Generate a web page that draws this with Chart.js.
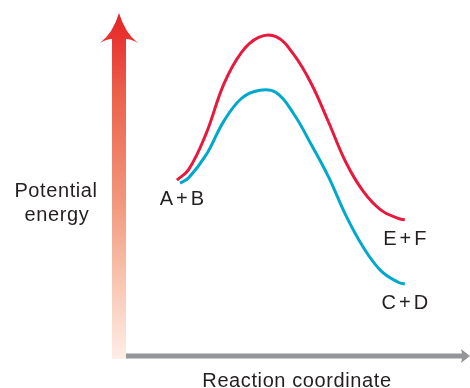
<!DOCTYPE html>
<html>
<head>
<meta charset="utf-8">
<script src="https://cdn.jsdelivr.net/npm/chart.js@4"></script>
<style>
  html, body { margin: 0; padding: 0; background: #fff; }
  #wrap { width: 470px; height: 388px; }
</style>
</head>
<body>
<div id="wrap"><canvas id="energyChart" width="470" height="388"></canvas></div>
<script>
// reaction coordinate (0..100) / potential energy (0..100)
const coordUncat = [16.6, 20, 25, 30, 35, 40, 45, 50, 55, 60, 65, 70, 75, 80, 81.9];
const energyUncat = [51.3, 54.4, 64.9, 79.2, 88.4, 92.9, 93.1, 88.0, 79.6, 68.3, 56.5, 48.0, 42.6, 40.1, 39.7];
const coordCat = [17.5, 20, 25, 30, 35, 40, 45, 50, 55, 60, 65, 70, 75, 80, 81.9];
const energyCat = [50.4, 52.0, 58.7, 68.4, 75.0, 77.4, 76.8, 70.7, 61.8, 52.3, 41.0, 31.7, 24.9, 21.5, 21.0];

const startLabel = 'A+B';
const upperLabel = 'E+F';
const lowerLabel = 'C+D';
const yTitle = ['Potential', 'energy'];
const xTitle = 'Reaction coordinate';

const RED = '#e8193d';
const CYAN = '#00a8cc';
const GREY = '#939598';
const INK = '#231f20';
const FONT = '20px "Liberation Sans", Arial, sans-serif';

const toPts = (xs, ys) => xs.map((x, i) => ({ x, y: ys[i] }));

// arrows + text, drawn around the chart area
const decor = {
  id: 'decor',
  beforeDatasetsDraw(chart) {
    const { ctx, chartArea: a } = chart;
    const cx = a.left;
    const base = a.bottom;
    ctx.save();

    // vertical gradient arrow
    const g = ctx.createLinearGradient(0, a.top, 0, base + 3);
    g.addColorStop(0, 'rgb(229,35,38)');
    g.addColorStop(0.25, 'rgb(236,100,78)');
    g.addColorStop(0.55, 'rgb(242,152,124)');
    g.addColorStop(0.8, 'rgb(249,202,182)');
    g.addColorStop(1, 'rgb(253,238,230)');
    ctx.fillStyle = g;
    ctx.beginPath();
    ctx.moveTo(cx, a.top);
    ctx.quadraticCurveTo(cx - 6, a.top + 20, cx - 19, a.top + 30);
    ctx.quadraticCurveTo(cx - 12, a.top + 26, cx - 7, a.top + 26);
    ctx.lineTo(cx - 7, base + 3);
    ctx.lineTo(cx + 7, base + 3);
    ctx.lineTo(cx + 7, a.top + 26);
    ctx.quadraticCurveTo(cx + 12, a.top + 26, cx + 19, a.top + 30);
    ctx.quadraticCurveTo(cx + 6, a.top + 20, cx, a.top);
    ctx.closePath();
    ctx.fill();

    // horizontal grey arrow
    const tip = chart.width;
    ctx.fillStyle = GREY;
    ctx.fillRect(cx + 7, base - 2.5, tip - 7 - (cx + 7), 5);
    ctx.beginPath();
    ctx.moveTo(tip, base);
    ctx.lineTo(tip - 9, base - 7);
    ctx.quadraticCurveTo(tip - 7, base, tip - 9, base + 7);
    ctx.closePath();
    ctx.fill();

    // text
    ctx.fillStyle = INK;
    ctx.font = FONT;
    ctx.textAlign = 'center';
    ctx.textBaseline = 'alphabetic';
    ctx.letterSpacing = '0.6px';
    ctx.fillText(yTitle[0], 56, 197);
    ctx.fillText(yTitle[1], 57, 221);
    ctx.fillText(xTitle, 297, 387);

    const xs = chart.scales.x, ys = chart.scales.y;
    ctx.letterSpacing = '3px';
    const lbl = (t, x, y, dx, dy) =>
      ctx.fillText(t, xs.getPixelForValue(x) + dx + 1.5, ys.getPixelForValue(y) + dy);
    lbl(startLabel, coordUncat[0], energyUncat[0], 5, 25);
    lbl(upperLabel, coordUncat[coordUncat.length - 1], energyUncat[energyUncat.length - 1], 0, 25);
    lbl(lowerLabel, coordCat[coordCat.length - 1], energyCat[energyCat.length - 1], 0, 25);
    ctx.restore();
  }
};

new Chart(document.getElementById('energyChart'), {
  type: 'line',
  data: {
    datasets: [
      { data: toPts(coordUncat, energyUncat), borderColor: RED, borderWidth: 3, pointRadius: 0, tension: 0.4, fill: false },
      { data: toPts(coordCat, energyCat), borderColor: CYAN, borderWidth: 3, pointRadius: 0, tension: 0.4, fill: false }
    ]
  },
  options: {
    responsive: false,
    animation: false,
    layout: { padding: { left: 119, top: 13, right: 2, bottom: 32 } },
    plugins: { legend: { display: false }, tooltip: { enabled: false } },
    scales: {
      x: { type: 'linear', min: 0, max: 100, display: false },
      y: { type: 'linear', min: 0, max: 100, display: false }
    }
  },
  plugins: [decor]
});
</script>
</body>
</html>
